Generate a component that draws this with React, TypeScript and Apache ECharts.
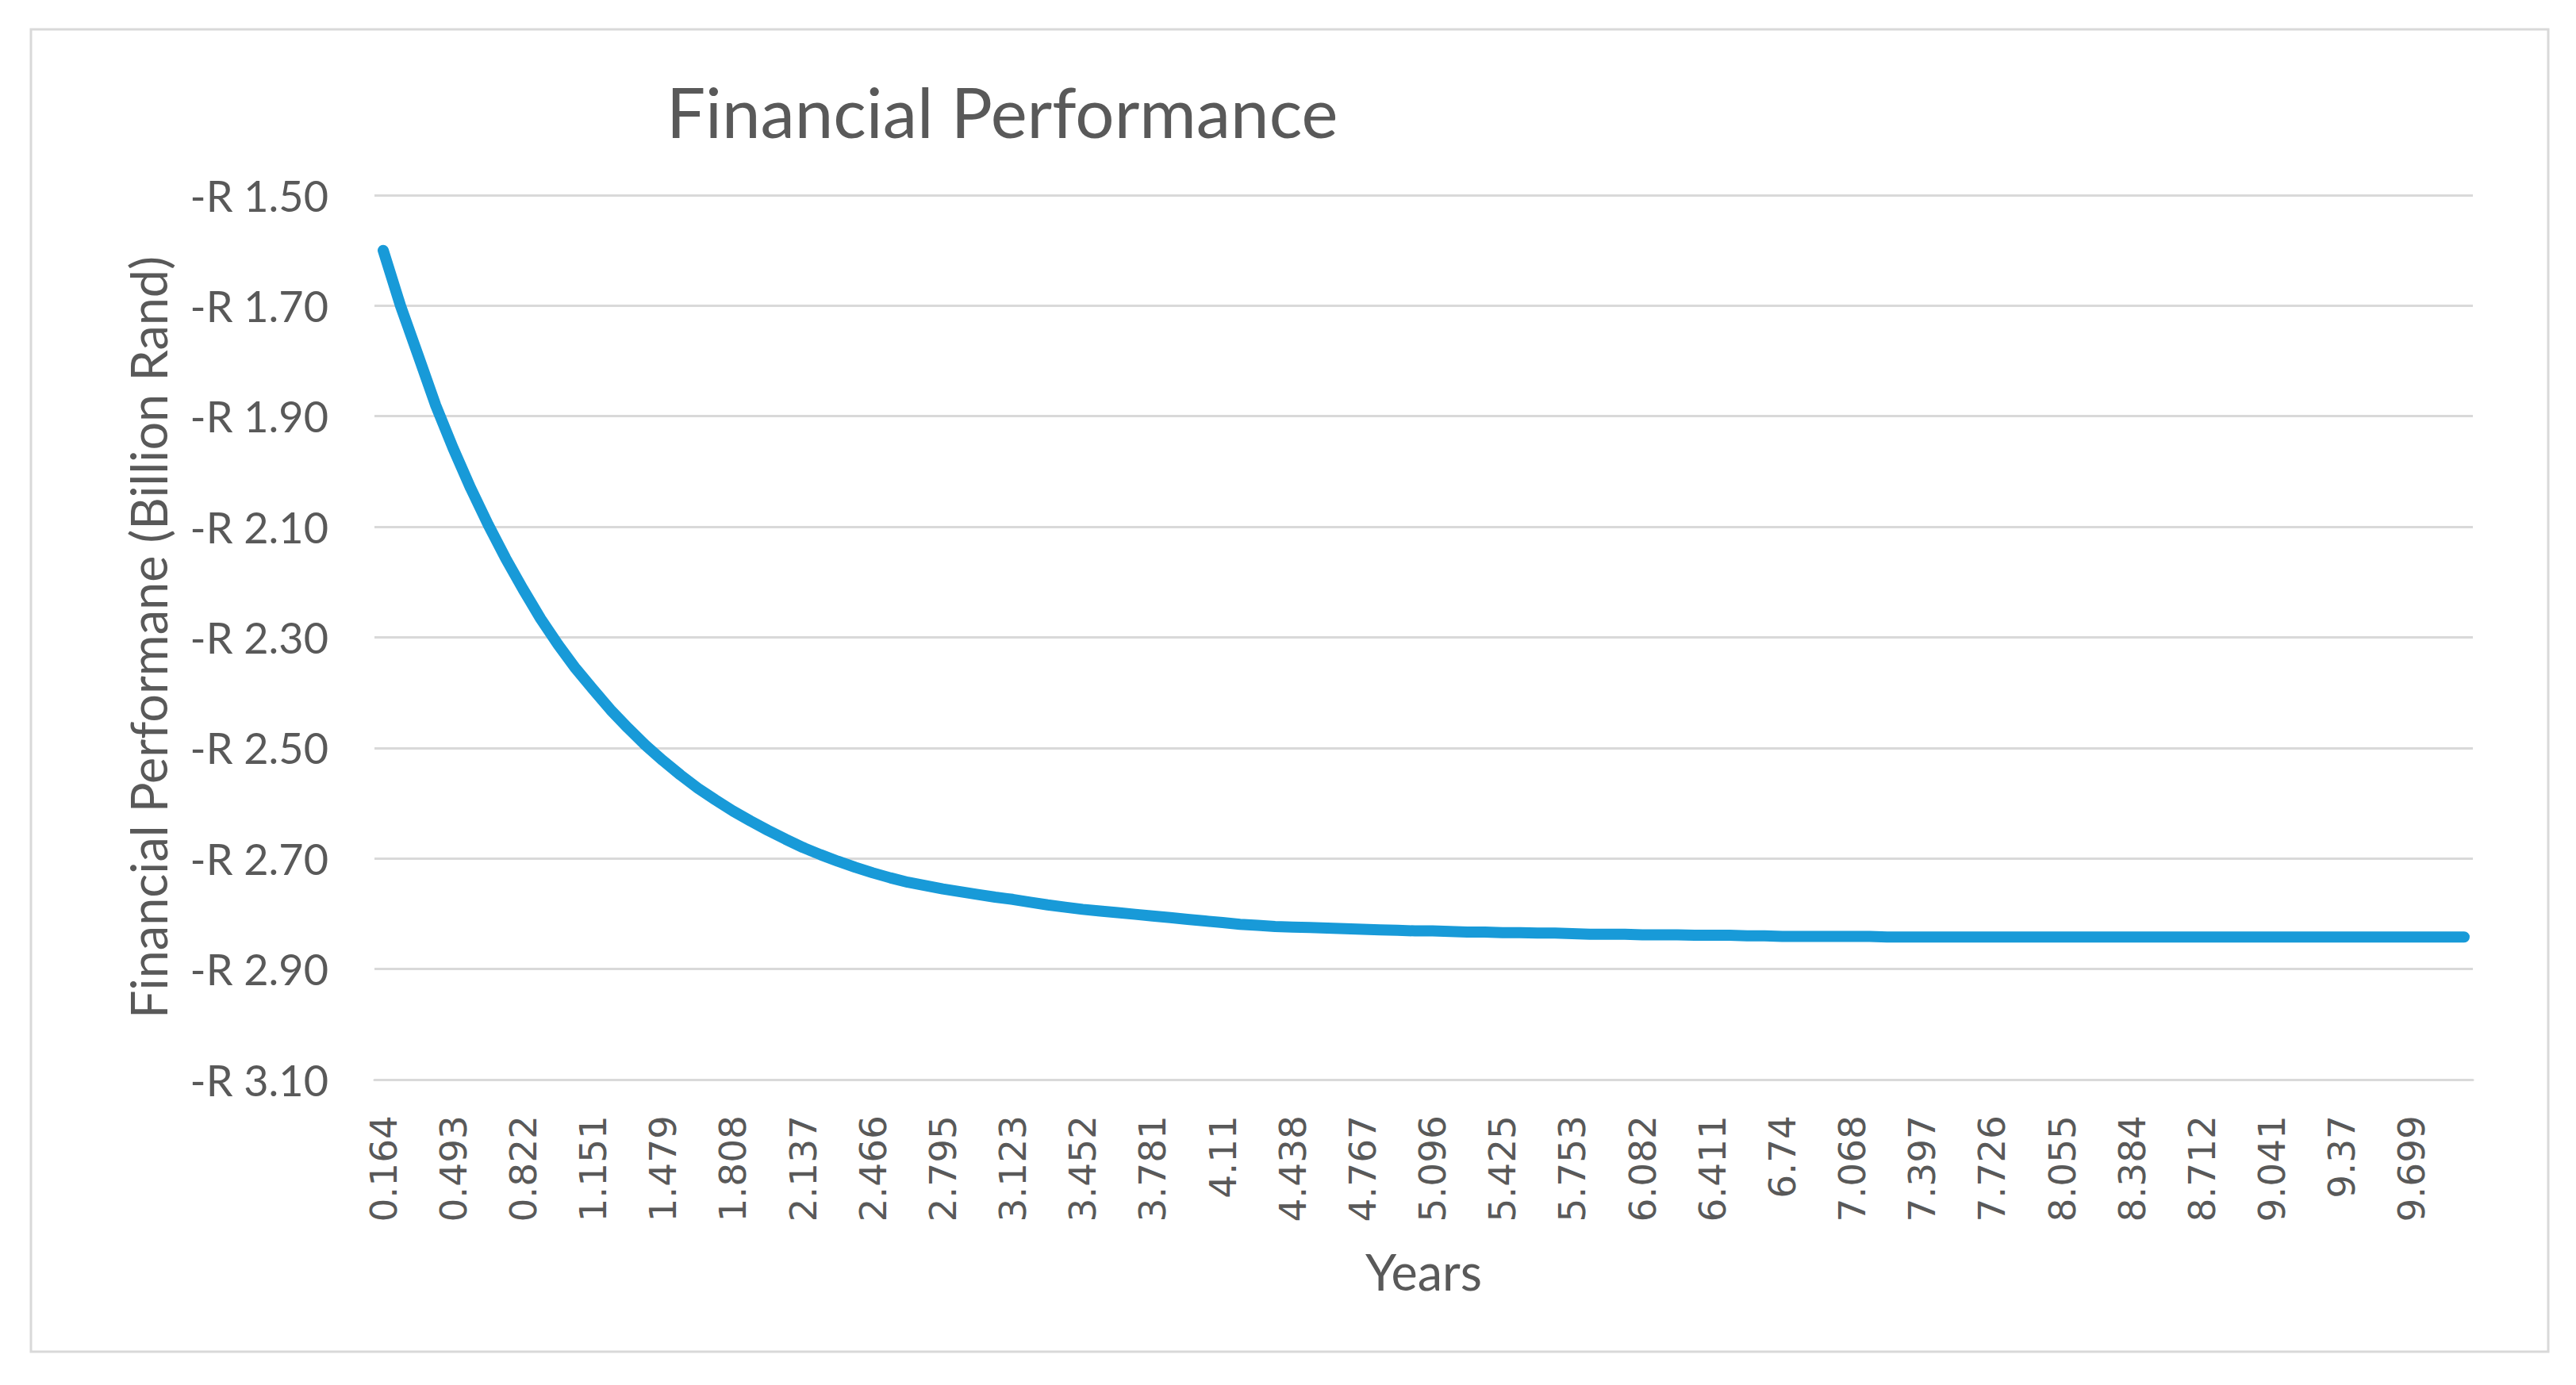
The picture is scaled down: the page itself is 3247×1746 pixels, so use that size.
import React, { useEffect, useRef } from "react";
import * as echarts from "echarts";

// Years (time in years, monthly steps starting at 60 days)
const years: string[] = [
  "0.164", "0.247", "0.329", "0.411", "0.493", "0.575", "0.658", "0.74", "0.822", "0.904",
  "0.986", "1.068", "1.151", "1.233", "1.315", "1.397", "1.479", "1.562", "1.644", "1.726",
  "1.808", "1.89", "1.973", "2.055", "2.137", "2.219", "2.301", "2.384", "2.466", "2.548",
  "2.63", "2.712", "2.795", "2.877", "2.959", "3.041", "3.123", "3.205", "3.288", "3.37",
  "3.452", "3.534", "3.616", "3.699", "3.781", "3.863", "3.945", "4.027", "4.11", "4.192",
  "4.274", "4.356", "4.438", "4.521", "4.603", "4.685", "4.767", "4.849", "4.932", "5.014",
  "5.096", "5.178", "5.26", "5.342", "5.425", "5.507", "5.589", "5.671", "5.753", "5.836",
  "5.918", "6", "6.082", "6.164", "6.247", "6.329", "6.411", "6.493", "6.575", "6.658",
  "6.74", "6.822", "6.904", "6.986", "7.068", "7.151", "7.233", "7.315", "7.397", "7.479",
  "7.562", "7.644", "7.726", "7.808", "7.89", "7.973", "8.055", "8.137", "8.219", "8.301",
  "8.384", "8.466", "8.548", "8.63", "8.712", "8.795", "8.877", "8.959", "9.041", "9.123",
  "9.205", "9.288", "9.37", "9.452", "9.534", "9.616", "9.699", "9.781", "9.863", "9.945",
];

// Financial performance (billion Rand)
const performance: number[] = [
  -1.600, -1.701, -1.790, -1.880, -1.958, -2.030, -2.096, -2.157, -2.213, -2.266,
  -2.313, -2.356, -2.394, -2.431, -2.464, -2.495, -2.523, -2.549, -2.573, -2.594,
  -2.614, -2.632, -2.649, -2.665, -2.680, -2.693, -2.705, -2.716, -2.726, -2.735,
  -2.743, -2.749, -2.755, -2.760, -2.765, -2.770, -2.774, -2.779, -2.784, -2.788,
  -2.792, -2.795, -2.798, -2.801, -2.804, -2.807, -2.810, -2.813, -2.816, -2.819,
  -2.821, -2.823, -2.824, -2.825, -2.826, -2.827, -2.828, -2.829, -2.830, -2.831,
  -2.831, -2.832, -2.833, -2.833, -2.834, -2.834, -2.835, -2.835, -2.836, -2.837,
  -2.837, -2.837, -2.838, -2.838, -2.838, -2.839, -2.839, -2.839, -2.840, -2.840,
  -2.841, -2.841, -2.841, -2.841, -2.841, -2.841, -2.842, -2.842, -2.842, -2.842,
  -2.842, -2.842, -2.842, -2.842, -2.842, -2.842, -2.842, -2.842, -2.842, -2.842,
  -2.842, -2.842, -2.842, -2.842, -2.842, -2.842, -2.842, -2.842, -2.842, -2.842,
  -2.842, -2.842, -2.842, -2.842, -2.842, -2.842, -2.842, -2.842, -2.842, -2.842,
];

const yMin = -3.1;
const yMax = -1.5;
const yStep = 0.2;

const TITLE = "Financial Performance";
const X_NAME = "Years";
const Y_NAME = "Financial Performane (Billion Rand)";

export default function App() {
  const ref = useRef<HTMLDivElement>(null);

  useEffect(() => {
    if (!ref.current) return;
    const chart = echarts.init(ref.current, undefined, { renderer: "svg" });
    const grey = "#595959";
    chart.setOption({
      animation: false,
      backgroundColor: "#ffffff",
      title: {
        text: TITLE,
        left: 835,
        top: 92,
        textStyle: {
          fontFamily: "Lato",
          fontSize: 87,
          fontWeight: "normal",
          color: grey,
        },
      },
      graphic: [
        {
          type: "rect",
          shape: { x: 39, y: 37, width: 3173, height: 1667 },
          style: { fill: "none", stroke: "#d9d9d9", lineWidth: 3 },
          silent: true,
        },
      ],
      grid: { left: 472, right: 130, top: 246, bottom: 385 },
      xAxis: {
        type: "category",
        data: years,
        boundaryGap: true,
        name: X_NAME,
        nameLocation: "middle",
        nameGap: 210,
        nameTextStyle: { fontFamily: "Lato", fontSize: 63, color: grey },
        axisTick: { show: false },
        axisLine: { show: true, lineStyle: { color: "#d9d9d9", width: 3 } },
        axisLabel: {
          interval: 3,
          rotate: 90,
          margin: 45,
          fontFamily: "DejaVu Sans",
          fontSize: 47,
          color: grey,
        },
        splitLine: { show: false },
      },
      yAxis: {
        type: "value",
        min: yMin,
        max: yMax,
        interval: yStep,
        name: Y_NAME,
        nameLocation: "middle",
        nameRotate: 90,
        nameGap: 254,
        nameTextStyle: { fontFamily: "Lato", fontSize: 63, color: grey },
        axisLine: { show: false },
        axisTick: { show: false },
        axisLabel: {
          margin: 58,
          fontFamily: "Lato",
          fontSize: 54,
          color: grey,
          formatter: (v: number) => "-R " + Math.abs(v).toFixed(2),
        },
        splitLine: { lineStyle: { color: "#d9d9d9", width: 3 } },
      },
      series: [
        {
          type: "line",
          data: performance,
          showSymbol: false,
          symbol: "none",
          smooth: false,
          lineStyle: { color: "#189ad8", width: 14, cap: "round", join: "round" },
          itemStyle: { color: "#189ad8" },
        },
      ],
    });
    return () => chart.dispose();
  }, []);

  return (
    <div
      ref={ref}
      style={{ position: "absolute", left: 0, top: 0, width: 3247, height: 1746, background: "#fff" }}
    />
  );
}
